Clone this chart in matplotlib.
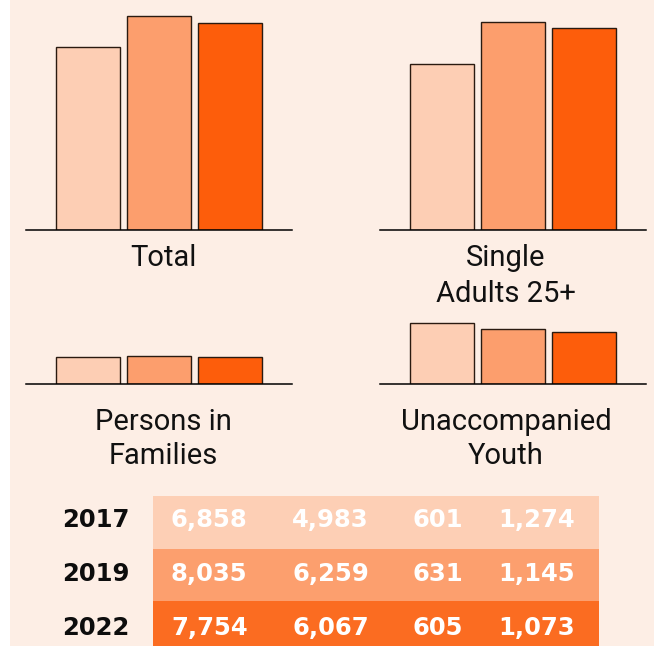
import matplotlib.pyplot as plt
from matplotlib.patches import Rectangle

years = ['2017', '2019', '2022']
groups = ['Total', 'Single\nAdults 25+', 'Persons in\nFamilies', 'Unaccompanied\nYouth']
total = [6858, 8035, 7754]
single_adults = [4983, 6259, 6067]
families = [601, 631, 605]
youth = [1274, 1145, 1073]

bar_colors = ['#fdceb4', '#fc9e6d', '#fd5d0b']
row_colors = ['#fdcfb5', '#fc9f6e', '#fb6c21']
bg = '#fdeee5'

W, H = 654, 646
fig = plt.figure(figsize=(W / 100, H / 100), dpi=100, facecolor='white')
fig.patches.append(Rectangle((10 / W, 0), 1, 1, transform=fig.transFigure,
                             facecolor=bg, edgecolor='none', zorder=-10))


def px_axes(x0, y_top, x1, y_bot):
    # axes from pixel box (y measured from top)
    return fig.add_axes([x0 / W, 1 - y_bot / H, (x1 - x0) / W, (y_bot - y_top) / H])


# panel boxes: (left, top, right, baseline), ylim top, label x, label baselines
panels = [
    (total, (26, 10, 292, 230), 8260, 163, (266.5,)),
    (single_adults, (380, 10, 646, 230), 6620, 506, (266.5, 301.5)),
    (families, (26, 314, 292, 384), 1561, 163, (429.5, 464)),
    (youth, (380, 314, 646, 384), 1455, 506, (429.5, 464.5)),
]

for (vals, box, ytop, lx, lys), name in zip(panels, groups):
    ax = px_axes(*box)
    ax.bar(range(3), vals, width=0.906, color=bar_colors, edgecolor='#2a1a10', linewidth=1)
    ax.set_xlim(-0.871, 2.871)
    ax.set_ylim(0, ytop)
    ax.set_facecolor('none')
    for s in ['top', 'left', 'right']:
        ax.spines[s].set_visible(False)
    ax.spines['bottom'].set_linewidth(1.1)
    ax.set_xticks([])
    ax.set_yticks([])
    for line, y in zip(name.split('\n'), lys):
        fig.text(lx / W, 1 - y / H, line, ha='center', va='baseline',
                 fontsize=21, family='Roboto', color='#111111')

# table
tab = px_axes(0, 496, W, H)
tab.set_xlim(0, W)
tab.set_ylim(150 / 52.7, 0)
tab.axis('off')
tab.barh(range(3), 446, left=153, height=1, align='edge', color=row_colors)
cols = [total, single_adults, families, youth]
col_x = [171, 292, 413, 498]
baselines = [0.59, 0.61, 0.64]
for i, yr in enumerate(years):
    y = i + baselines[i]
    tab.text(62, y, yr, ha='left', va='baseline', fontsize=17.5,
             fontweight='bold', color='#0d0d0d')
    for c, cx in zip(cols, col_x):
        tab.text(cx, y, f'{c[i]:,}', ha='left', va='baseline', fontsize=17.5,
                 fontweight='bold', color='white')

fig.savefig('out.png', dpi=100, facecolor=fig.get_facecolor())
